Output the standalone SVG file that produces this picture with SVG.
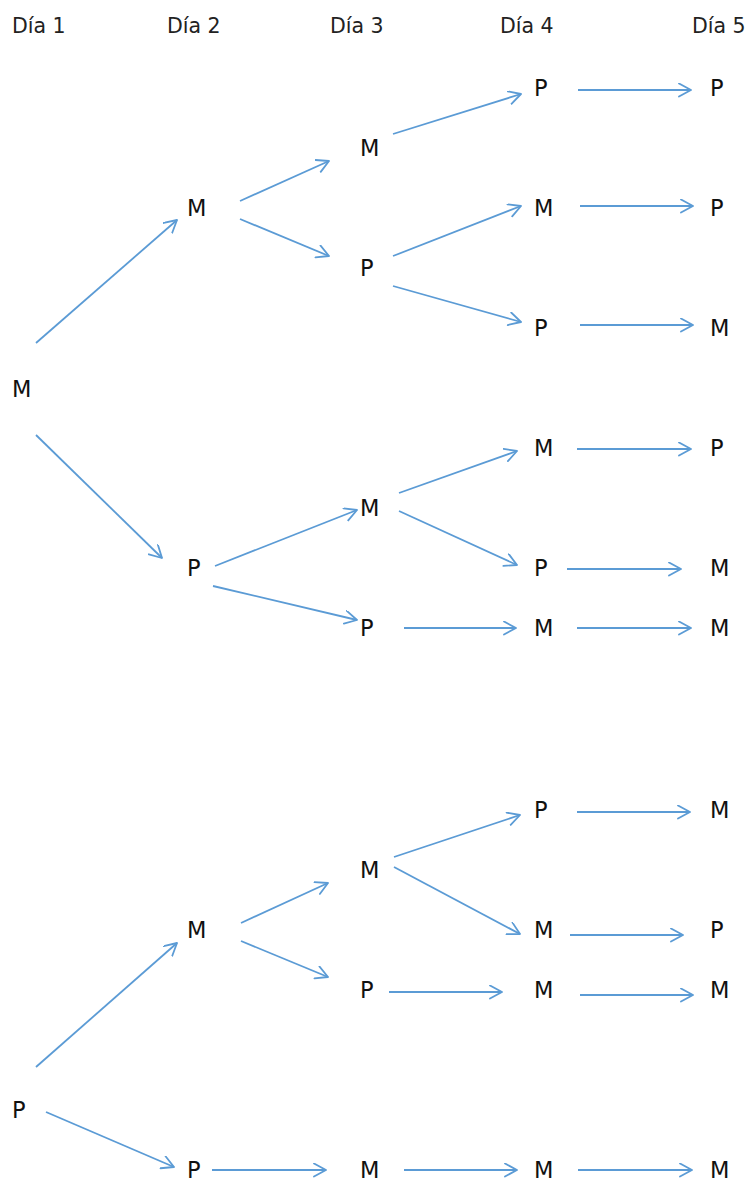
<svg xmlns="http://www.w3.org/2000/svg" width="749" height="1182" viewBox="0 0 749 1182">
<style>
.h{font-family:"DejaVu Sans",sans-serif;font-size:20.5px;fill:#222}
.n{font-family:"DejaVu Sans",sans-serif;font-size:22.5px;fill:#111}
.c line{stroke:#5B9BD5;stroke-width:1.8;fill:none;marker-end:url(#ah)}
</style>
<defs>
<marker id="ah" markerUnits="userSpaceOnUse" markerWidth="16" markerHeight="16" refX="13" refY="7" orient="auto" viewBox="0 0 16 16">
<path d="M1,0.5 L13,7 L1,13.5" fill="none" stroke="#5B9BD5" stroke-width="1.8" stroke-linejoin="round" stroke-linecap="round"/>
</marker>
</defs>
<rect width="749" height="1182" fill="#fff"/>
<g id="headers">
<text class="h" x="12" y="33">Día 1</text>
<text class="h" x="167" y="33">Día 2</text>
<text class="h" x="330" y="33">Día 3</text>
<text class="h" x="500" y="33">Día 4</text>
<text class="h" x="692" y="33">Día 5</text>
</g>
<g class="c" id="connectors">
<line x1="36" y1="343" x2="177" y2="220"/>
<line x1="36" y1="435" x2="162" y2="558"/>
<line x1="240" y1="201" x2="329" y2="161"/>
<line x1="240" y1="219" x2="329" y2="256"/>
<line x1="393" y1="134" x2="521" y2="94"/>
<line x1="393" y1="256" x2="521" y2="206"/>
<line x1="393" y1="286" x2="521" y2="322"/>
<line x1="578" y1="90" x2="691" y2="90"/>
<line x1="580" y1="206" x2="693" y2="206"/>
<line x1="580" y1="325" x2="693" y2="325"/>
<line x1="215" y1="566" x2="357" y2="510"/>
<line x1="213" y1="586" x2="357" y2="620"/>
<line x1="399" y1="493" x2="517" y2="451"/>
<line x1="399" y1="511" x2="517" y2="565"/>
<line x1="577" y1="449" x2="691" y2="449"/>
<line x1="567" y1="569" x2="681" y2="569"/>
<line x1="404" y1="628" x2="516" y2="628"/>
<line x1="577" y1="628" x2="691" y2="628"/>
<line x1="36" y1="1067" x2="177" y2="943"/>
<line x1="46" y1="1112" x2="174" y2="1167"/>
<line x1="241" y1="923" x2="328" y2="883"/>
<line x1="241" y1="941" x2="328" y2="977"/>
<line x1="394" y1="857" x2="520" y2="815"/>
<line x1="394" y1="867" x2="520" y2="934"/>
<line x1="577" y1="812" x2="690" y2="812"/>
<line x1="570" y1="935" x2="683" y2="935"/>
<line x1="389" y1="992" x2="502" y2="992"/>
<line x1="580" y1="995" x2="693" y2="995"/>
<line x1="212" y1="1170" x2="326" y2="1170"/>
<line x1="404" y1="1170" x2="517" y2="1170"/>
<line x1="578" y1="1170" x2="692" y2="1170"/>
</g>
<g id="n1"><text class="n" x="12" y="397">M</text></g>
<g id="n2"><text class="n" x="187" y="216">M</text></g>
<g id="n3"><text class="n" x="187" y="576">P</text></g>
<g id="n4"><text class="n" x="360" y="156">M</text></g>
<g id="n5"><text class="n" x="360" y="276">P</text></g>
<g id="n6"><text class="n" x="360" y="516">M</text></g>
<g id="n7"><text class="n" x="360" y="636">P</text></g>
<g id="n8"><text class="n" x="534" y="96">P</text></g>
<g id="n9"><text class="n" x="534" y="216">M</text></g>
<g id="n10"><text class="n" x="534" y="336">P</text></g>
<g id="n11"><text class="n" x="534" y="456">M</text></g>
<g id="n12"><text class="n" x="534" y="576">P</text></g>
<g id="n13"><text class="n" x="534" y="636">M</text></g>
<g id="n14"><text class="n" x="710" y="96">P</text></g>
<g id="n15"><text class="n" x="710" y="216">P</text></g>
<g id="n16"><text class="n" x="710" y="336">M</text></g>
<g id="n17"><text class="n" x="710" y="456">P</text></g>
<g id="n18"><text class="n" x="710" y="576">M</text></g>
<g id="n19"><text class="n" x="710" y="636">M</text></g>
<g id="n20"><text class="n" x="12" y="1118">P</text></g>
<g id="n21"><text class="n" x="187" y="938">M</text></g>
<g id="n22"><text class="n" x="187" y="1178">P</text></g>
<g id="n23"><text class="n" x="360" y="878">M</text></g>
<g id="n24"><text class="n" x="360" y="998">P</text></g>
<g id="n25"><text class="n" x="360" y="1178">M</text></g>
<g id="n26"><text class="n" x="534" y="818">P</text></g>
<g id="n27"><text class="n" x="534" y="938">M</text></g>
<g id="n28"><text class="n" x="534" y="998">M</text></g>
<g id="n29"><text class="n" x="534" y="1178">M</text></g>
<g id="n30"><text class="n" x="710" y="818">M</text></g>
<g id="n31"><text class="n" x="710" y="938">P</text></g>
<g id="n32"><text class="n" x="710" y="998">M</text></g>
<g id="n33"><text class="n" x="710" y="1178">M</text></g>
</svg>
